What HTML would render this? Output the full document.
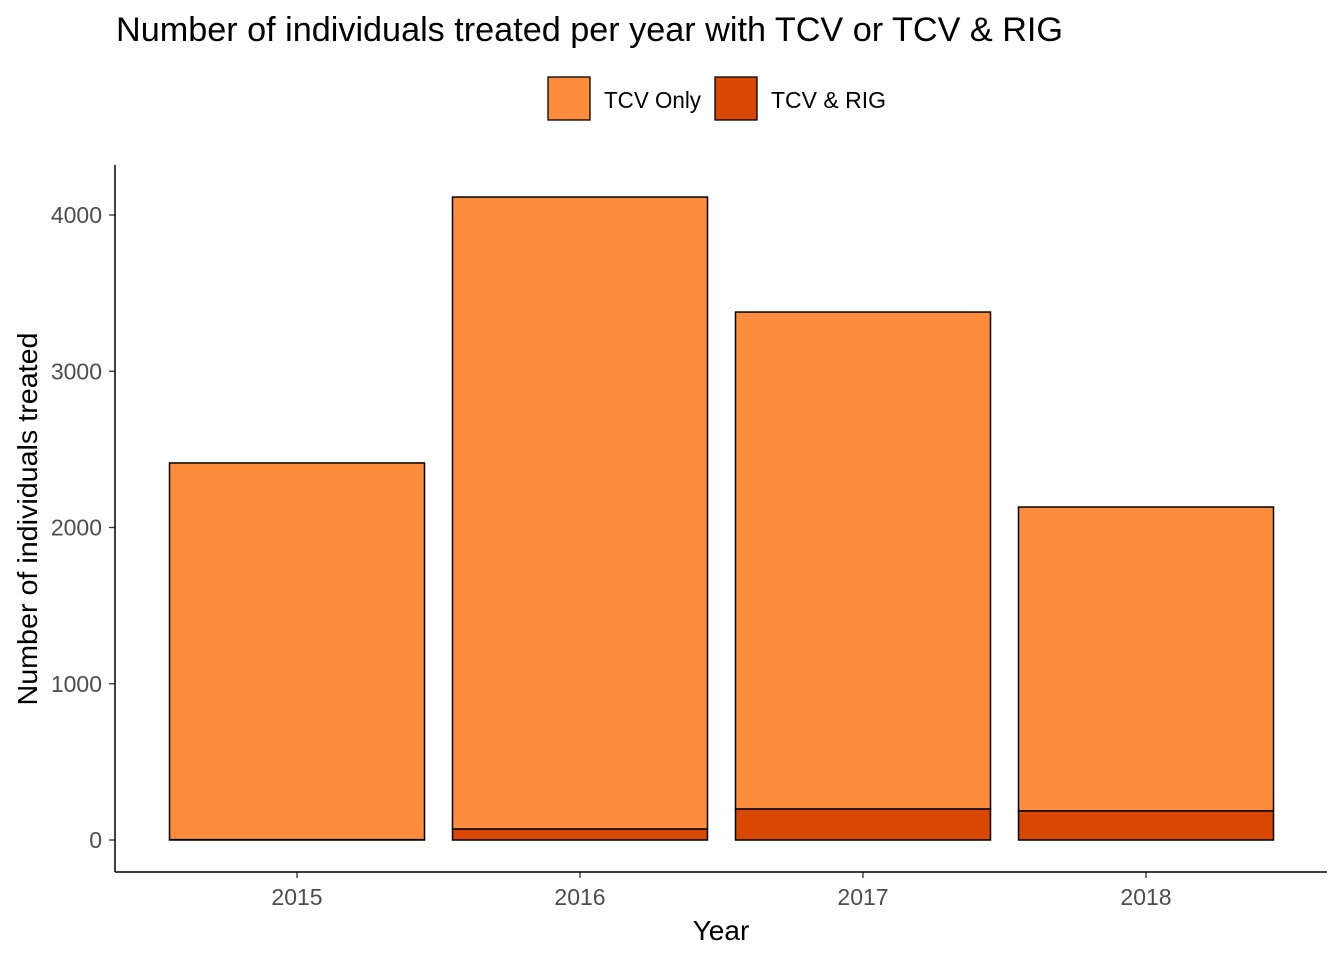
<!DOCTYPE html>
<html><head><meta charset="utf-8"><style>
body{margin:0;background:#fff;font-family:"Liberation Sans",Arial,sans-serif}
</style></head><body>
<svg id="chart" width="1344" height="960" xmlns="http://www.w3.org/2000/svg" font-family="Liberation Sans, Arial, sans-serif">
<rect width="1344" height="960" fill="#fff"/>
<text x="116" y="41" font-size="34" fill="#000" textLength="947" lengthAdjust="spacingAndGlyphs">Number of individuals treated per year with TCV or TCV &amp; RIG</text>
<g>
<g>
<rect x="548" y="77" width="42" height="43" fill="#FD8D3C" stroke="#000" stroke-width="1.3"/>
<text x="604" y="108" font-size="23" textLength="97" lengthAdjust="spacingAndGlyphs">TCV Only</text></g>
<g>
<rect x="715" y="77" width="42" height="43" fill="#D94801" stroke="#000" stroke-width="1.3"/>
<text x="771" y="108" font-size="23">TCV &amp; RIG</text></g>
</g>
<g id="plot"></g>
<line x1="115" y1="165" x2="115" y2="872" stroke="#000" stroke-width="1.5"/>
<line x1="115" y1="872" x2="1327" y2="872" stroke="#000" stroke-width="1.5"/>
<text x="721" y="940" font-size="28" text-anchor="middle">Year</text>
<text transform="translate(37,519) rotate(-90)" font-size="28" text-anchor="middle" textLength="373" lengthAdjust="spacingAndGlyphs">Number of individuals treated</text>
</svg>
<script>
const categories = ["2015","2016","2017","2018"];
const rigValues = [2, 70, 198, 186];
const tcvOnlyValues = [2411, 4045, 3181, 1945];
const yTicks = [0, 1000, 2000, 3000, 4000];
const NS="http://www.w3.org/2000/svg";
const g=document.getElementById('plot');
function y(v){return 840 - v*0.15625;}
function x(i){return 297 + i*283;}
const bw=255;
function mk(t,a){const e=document.createElementNS(NS,t);for(const k in a)e.setAttribute(k,a[k]);g.appendChild(e);return e;}
yTicks.forEach(t=>{
  const l=mk('line',{x1:109,x2:115,y1:y(t),y2:y(t),stroke:'#333','stroke-width':1.3});
  
  
  const tx=mk('text',{x:102,y:y(t)+8,'font-size':23,fill:'#4d4d4d','text-anchor':'end'});
  tx.textContent=t;
  
  
});
categories.forEach((c,i)=>{
  const r=rigValues[i], o=tcvOnlyValues[i];
  const b2=mk('rect',{x:x(i)-bw/2,y:y(r+o),width:bw,height:y(r)-y(r+o),fill:'#FD8D3C',stroke:'#000','stroke-width':1.5});
  
  
  const b1=mk('rect',{x:x(i)-bw/2,y:y(r),width:bw,height:y(0)-y(r),fill:'#D94801',stroke:'#000','stroke-width':1.5});
  
  
  const tk=mk('line',{x1:x(i),x2:x(i),y1:872,y2:878,stroke:'#333','stroke-width':1.3});
  
  
  const tl=mk('text',{x:x(i),y:905,'font-size':23,fill:'#4d4d4d','text-anchor':'middle'});
  tl.textContent=c;
  
  
});
</script>
</body></html>
